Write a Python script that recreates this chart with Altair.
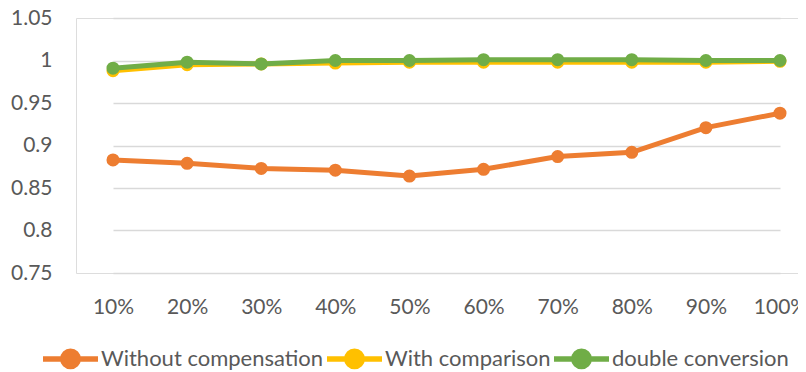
import altair as alt
import pandas as pd

categories = ["10%", "20%", "30%", "40%", "50%", "60%", "70%", "80%", "90%", "100%"]
series_names = ["Without compensation", "With comparison", "double conversion"]
without_comp = [0.883, 0.879, 0.873, 0.871, 0.864, 0.872, 0.887, 0.892, 0.921, 0.938]
with_comp = [0.988, 0.995, 0.996, 0.997, 0.998, 0.998, 0.998, 0.998, 0.998, 0.999]
double_conv = [0.991, 0.998, 0.996, 1.000, 1.000, 1.001, 1.001, 1.001, 1.000, 1.000]
y_ticks = [0.75, 0.8, 0.85, 0.9, 0.95, 1.0, 1.05]
colors = ["#ED7D31", "#FFC000", "#70AD47"]

rows = []
for name, vals in zip(series_names, [without_comp, with_comp, double_conv]):
    for c, v in zip(categories, vals):
        rows.append({"cat": c, "value": v, "series": name})
df = pd.DataFrame(rows)

FONT = "Lato"
TXT = "#595959"

legend_symbol = "M -1 0 L 1 0 M -0.28 0 A 0.28 0.28 0 1 1 0.28 0 A 0.28 0.28 0 1 1 -0.28 0 Z"

color = alt.Color(
    "series:N",
    scale=alt.Scale(domain=series_names, range=colors),
    sort=series_names,
    legend=alt.Legend(
        title=None,
        orient="none",
        direction="horizontal",
        legendX=-36,
        legendY=310,
        symbolType=legend_symbol,
        symbolSize=3025,
        symbolStrokeWidth=5.5,
        labelFont=FONT,
        labelFontSize=22,
        labelColor=TXT,
        labelOffset=0,
        labelLimit=400,
        columnPadding=-10,
    ),
)

x = alt.X(
    "cat:N",
    sort=categories,
    scale=alt.Scale(type="point", range=[37, 704], padding=0),
    axis=alt.Axis(
        title=None, labelAngle=0, ticks=False, domain=False, grid=False,
        labelFont=FONT, labelFontSize=21, labelColor=TXT, labelPadding=23,
    ),
)
y = alt.Y(
    "value:Q",
    scale=alt.Scale(domain=[0.75, 1.05], nice=False, zero=False),
    axis=alt.Axis(
        title=None, values=y_ticks, format=".2~f", ticks=False, domain=False,
        gridColor="#D9D9D9", gridWidth=1.5,
        labelFont=FONT, labelFontSize=21, labelColor=TXT, labelPadding=24,
    ),
)

base = alt.Chart(df).encode(x=x, y=y, color=color, detail="series:N")

lines = base.mark_line(strokeWidth=5)
points = base.mark_point(filled=True, size=170, opacity=1).encode(
    fill=alt.Fill("series:N", scale=alt.Scale(domain=series_names, range=colors), legend=None)
)

layers = []
for name in series_names:
    layers.append(lines.transform_filter(alt.datum.series == name))
    layers.append(points.transform_filter(alt.datum.series == name))

chart = (
    alt.layer(*layers)
    .properties(
        width=722,
        height=255,
        autosize=alt.AutoSizeParams(type="none"),
        padding={"left": 68, "top": 10, "right": 0, "bottom": 97},
    )
    .configure_view(strokeWidth=0, stroke="transparent")
    .configure(background="white")
)

chart.save("out.html", embed_options={"renderer": "svg", "actions": False})
